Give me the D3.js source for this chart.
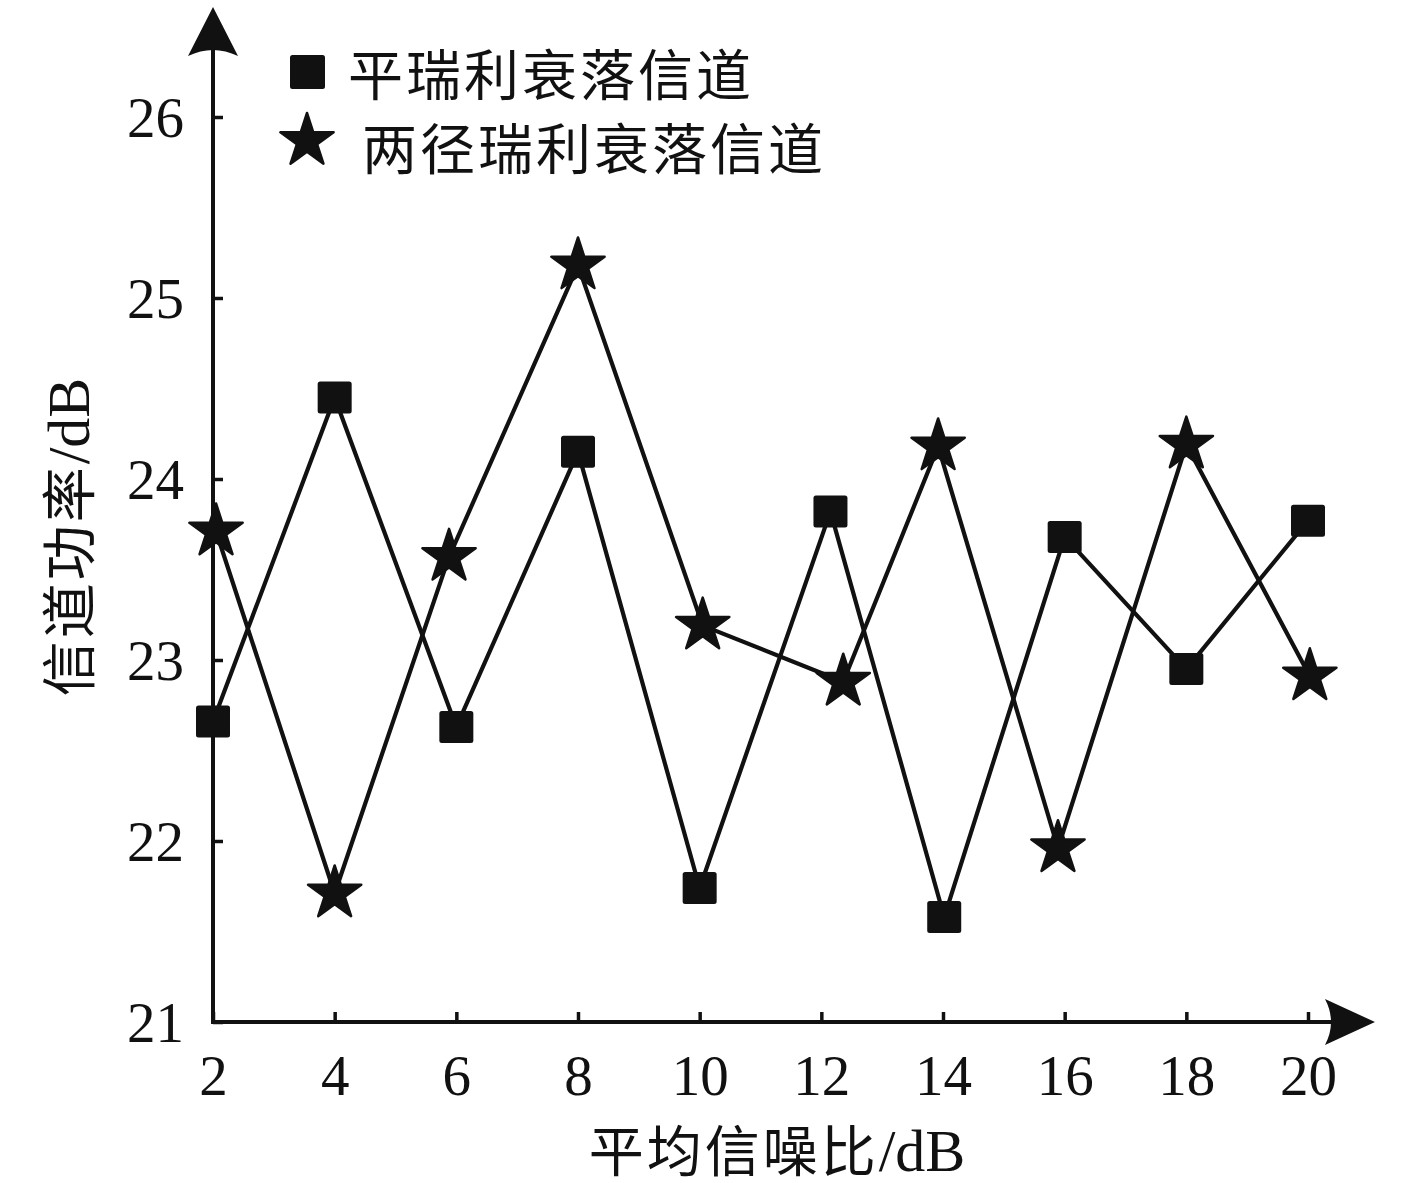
<!DOCTYPE html>
<html>
<head>
<meta charset="utf-8">
<script src="https://cdn.jsdelivr.net/npm/d3@7"></script>
<style>
  html, body { margin: 0; padding: 0; background: #fff; }
  svg { display: block; }
</style>
</head>
<body>
<svg id="chart" width="1417" height="1183"></svg>
<script>
// ---- data ----
const xTicks = [2, 4, 6, 8, 10, 12, 14, 16, 18, 20];
const yTicks = [21, 22, 23, 24, 25, 26];
const flatX = [2, 4, 6, 8, 10, 12.15, 14.02, 16, 18, 20];
const flatPower = [22.66, 24.45, 22.63, 24.15, 21.74, 23.82, 21.58, 23.68, 22.95, 23.77];
const twoPathX = [2.05, 4, 5.88, 8, 10.05, 12.36, 13.92, 15.89, 18, 20.03];
const twoPathPower = [23.71, 21.71, 23.57, 25.18, 23.19, 22.88, 24.18, 21.96, 24.19, 22.91];
const seriesNames = ["平瑞利衰落信道", "两径瑞利衰落信道"];
const xTitle = ["平均信噪比", "/dB"];
const yTitle = ["信道功率", "/dB"];

const ink = "#111";
const svg = d3.select("#chart");
const x = d3.scaleLinear().domain([2, 20]).range([213, 1308]);
const y = d3.scaleLinear().domain([21, 26]).range([1022, 117]);
const numFont = "'Liberation Serif', 'Times New Roman', serif";
const cjkFont = "'Liberation Serif', 'Noto Sans CJK SC', serif";

// ---- axes ----
const yAxis = d3.axisLeft(y).tickValues(yTicks).tickFormat(d3.format("d"))
  .tickSize(-10).tickPadding(29);
const gy = svg.append("g").attr("transform", `translate(${x(2)},0)`).call(yAxis);
gy.select(".domain").remove();
gy.selectAll(".tick line").attr("stroke", ink).attr("stroke-width", 3.5);
gy.selectAll(".tick text").attr("fill", ink).attr("font-family", numFont)
  .attr("font-size", 57).attr("dy", "0.35em");

const xAxis = d3.axisBottom(x).tickValues(xTicks).tickFormat(d3.format("d"))
  .tickSize(-10).tickPadding(33);
const gx = svg.append("g").attr("transform", `translate(0,${y(21)})`).call(xAxis);
gx.select(".domain").remove();
gx.selectAll(".tick line").attr("stroke", ink).attr("stroke-width", 3.5);
gx.selectAll(".tick text").attr("fill", ink).attr("font-family", numFont)
  .attr("font-size", 57);

// axis lines with arrows
const ox = x(2), oy = y(21);
const yTip = 7, xTip = 1375;
svg.append("line").attr("x1", ox).attr("y1", oy + 2).attr("x2", ox).attr("y2", yTip + 30)
  .attr("stroke", ink).attr("stroke-width", 4);
svg.append("line").attr("x1", ox - 2).attr("y1", oy).attr("x2", xTip - 30).attr("y2", oy)
  .attr("stroke", ink).attr("stroke-width", 4);
svg.append("path")
  .attr("d", `M${ox},${yTip} L${ox + 25},${yTip + 49} Q${ox},${yTip + 37} ${ox - 25},${yTip + 49} Z`)
  .attr("fill", ink);
svg.append("path")
  .attr("d", `M${xTip},${oy} L${xTip - 50},${oy - 23} Q${xTip - 38},${oy} ${xTip - 50},${oy + 23} Z`)
  .attr("fill", ink);

// ---- series ----
const flatData = flatX.map((v, i) => [v, flatPower[i]]);
const twoData = twoPathX.map((v, i) => [v, twoPathPower[i]]);
const line = d3.line().x(d => x(d[0])).y(d => y(d[1]));

svg.append("path").datum(flatData).attr("d", line)
  .attr("fill", "none").attr("stroke", ink).attr("stroke-width", 4.2).attr("stroke-linejoin", "round");
svg.append("path").datum(twoData).attr("d", line)
  .attr("fill", "none").attr("stroke", ink).attr("stroke-width", 4.2).attr("stroke-linejoin", "round");

const sqW = 34, sqH = 32;
svg.append("g").selectAll("rect").data(flatData).join("rect")
  .attr("x", d => x(d[0]) - sqW / 2).attr("y", d => y(d[1]) - sqH / 2)
  .attr("width", sqW).attr("height", sqH).attr("rx", 2.5)
  .attr("fill", ink);

const star = d3.symbol().type(d3.symbolStar).size(880);
svg.append("g").selectAll("path").data(twoData).join("path")
  .attr("d", star)
  .attr("transform", d => `translate(${x(d[0])},${y(d[1])})`)
  .attr("fill", ink).attr("stroke", ink).attr("stroke-width", 2.5).attr("stroke-linejoin", "round");

// ---- legend ----
svg.append("rect").attr("x", 290).attr("y", 55).attr("width", 35).attr("height", 34).attr("rx", 2.5)
  .attr("fill", ink);
svg.append("text").attr("x", 348).attr("y", 95).text(seriesNames[0])
  .attr("font-family", cjkFont).attr("font-size", 55).attr("letter-spacing", 3).attr("fill", ink);
svg.append("path").attr("d", star).attr("transform", "translate(307,141)")
  .attr("fill", ink).attr("stroke", ink).attr("stroke-width", 2.5).attr("stroke-linejoin", "round");
svg.append("text").attr("x", 362).attr("y", 169).text(seriesNames[1])
  .attr("font-family", cjkFont).attr("font-size", 55).attr("letter-spacing", 3).attr("fill", ink);

// ---- axis titles ----
const xt = svg.append("text").attr("x", 777).attr("y", 1171).attr("text-anchor", "middle")
  .attr("font-family", cjkFont).attr("font-size", 55).attr("letter-spacing", 3).attr("fill", ink);
xt.append("tspan").text(xTitle[0]);
xt.append("tspan").attr("font-size", 60).attr("letter-spacing", 0).text(xTitle[1]);

const yt = svg.append("text").attr("transform", "translate(89,537) rotate(-90)").attr("text-anchor", "middle")
  .attr("font-family", cjkFont).attr("font-size", 55).attr("letter-spacing", 3).attr("fill", ink);
yt.append("tspan").text(yTitle[0]);
yt.append("tspan").attr("font-size", 60).attr("letter-spacing", 0).text(yTitle[1]);
</script>
</body>
</html>
